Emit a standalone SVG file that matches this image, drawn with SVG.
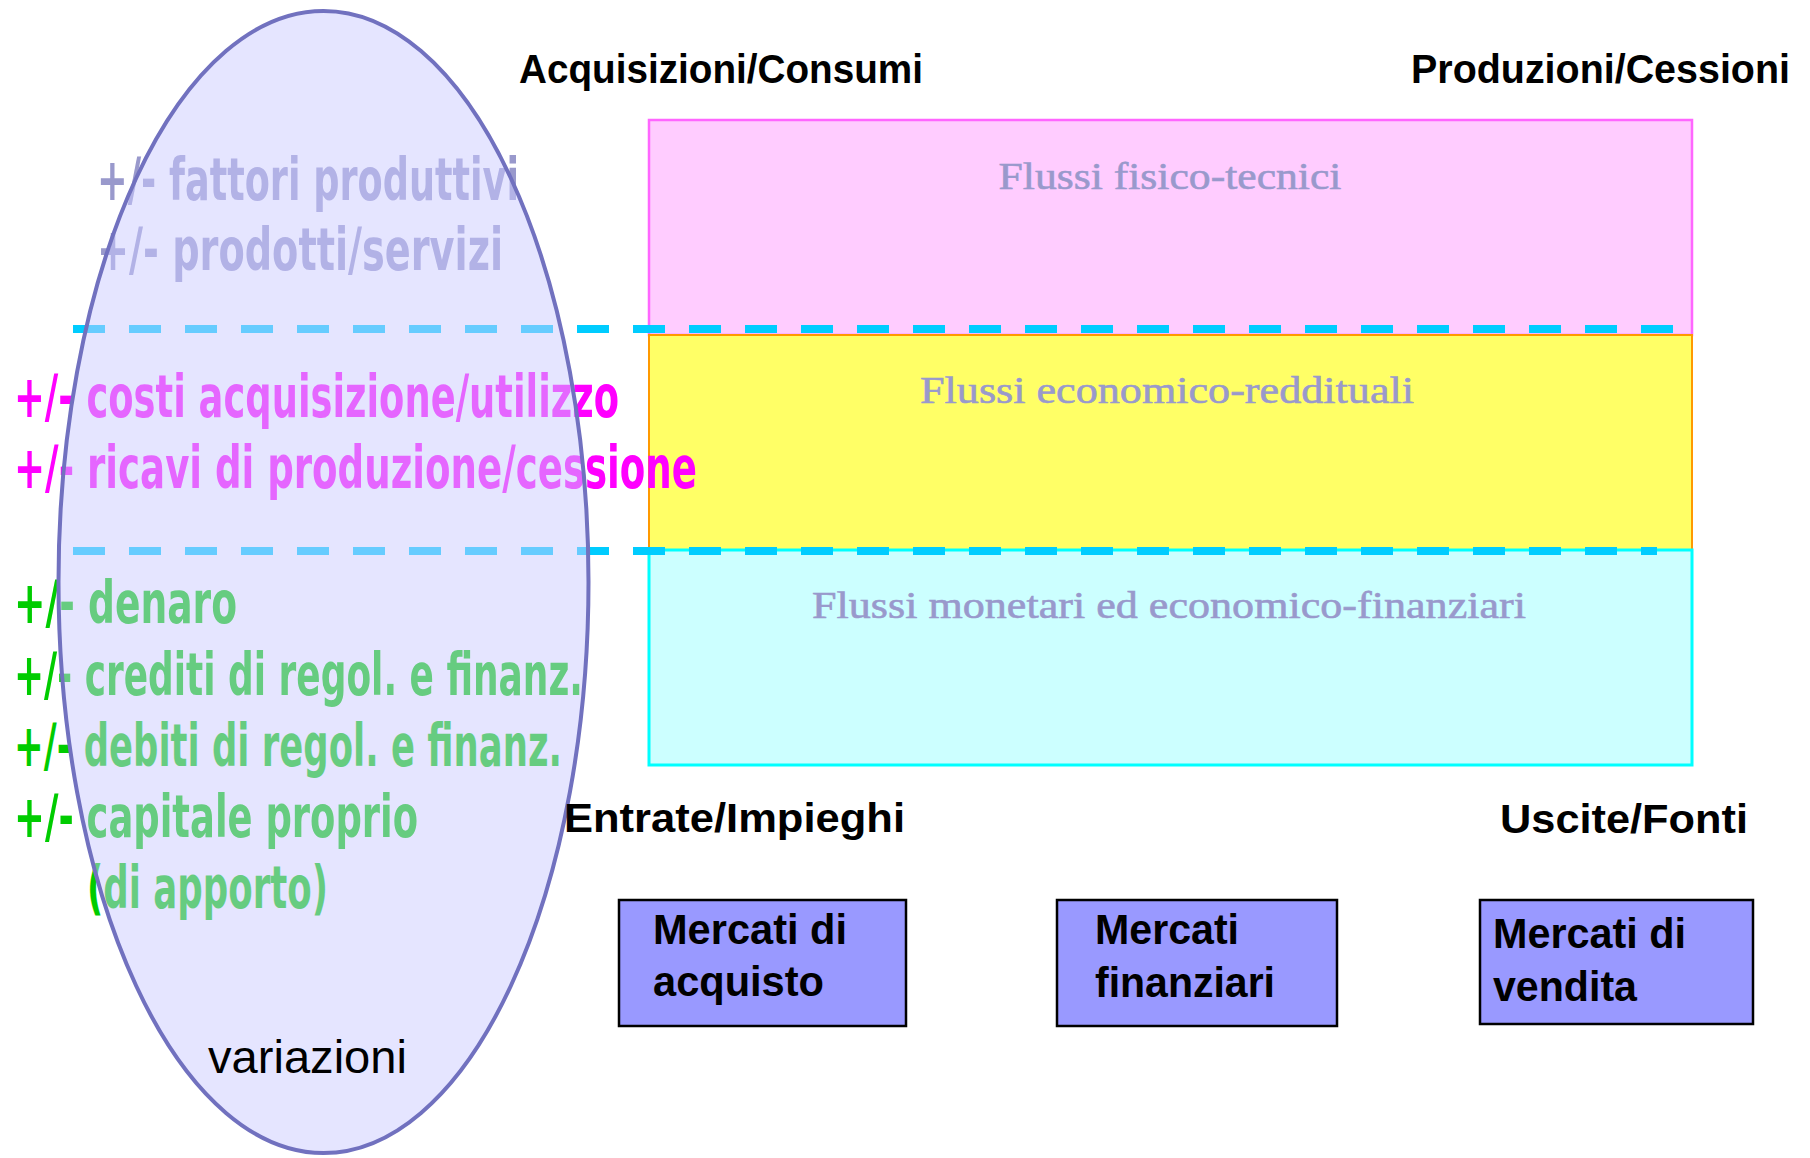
<svg xmlns="http://www.w3.org/2000/svg" width="1810" height="1158" viewBox="0 0 1810 1158">
  <style>
    .title { font-family: "Liberation Sans", Arial, sans-serif; font-weight: bold; font-size: 40px; fill: #000000; }
    .flow { font-family: "Liberation Serif", "Times New Roman", serif; font-size: 38px; fill: #9999cc; stroke: #9999cc; stroke-width: 0.6; text-anchor: middle; }
    .cond { font-family: "DejaVu Sans Condensed", "DejaVu Sans", sans-serif; font-stretch: condensed; font-weight: bold; font-size: 58px; }
    .grey { fill: #9999cc; }
    .mag { fill: #ff00ff; }
    .grn { fill: #00cc00; }
    .sep { stroke: #00ccff; stroke-width: 8; stroke-dasharray: 32 24; fill: none; }
    .mkt rect { fill: #9999ff; stroke: #000000; stroke-width: 2.5; }
    .mkt text { font-family: "Liberation Sans", Arial, sans-serif; font-weight: bold; font-size: 42px; fill: #000000; }
  </style>

  <!-- flow bands -->
  <g id="flussi-fisico-tecnici">
    <rect x="649" y="120" width="1043" height="215" fill="#ffccff" stroke="#ff66ff" stroke-width="2.5"/>
    <text class="flow" x="1170" y="189" textLength="343" lengthAdjust="spacingAndGlyphs">Flussi fisico-tecnici</text>
  </g>
  <g id="flussi-economico-reddituali">
    <rect x="649" y="335" width="1043" height="215" fill="#ffff66" stroke="#ff9900" stroke-width="2"/>
    <text class="flow" x="1167" y="403" textLength="494" lengthAdjust="spacingAndGlyphs">Flussi economico-reddituali</text>
  </g>
  <g id="flussi-monetari">
    <rect x="649" y="550" width="1043" height="215" fill="#ccffff" stroke="#00ffff" stroke-width="3"/>
    <text class="flow" x="1169" y="618" textLength="714" lengthAdjust="spacingAndGlyphs">Flussi monetari ed economico-finanziari</text>
  </g>

  <!-- separators -->
  <g id="connectors">
    <line class="sep" x1="73" y1="329" x2="1674" y2="329"/>
    <line class="sep" x1="73" y1="551" x2="1657" y2="551"/>
  </g>

  <!-- variation texts -->
  <g id="variazioni-testi">
    <text class="cond grey" x="97" y="200" textLength="422" lengthAdjust="spacingAndGlyphs">+/- fattori produttivi</text>
    <text class="cond grey" x="97" y="270" textLength="406" lengthAdjust="spacingAndGlyphs">+/- prodotti/servizi</text>
    <text class="cond mag" x="14" y="417" textLength="605" lengthAdjust="spacingAndGlyphs">+/- costi acquisizione/utilizzo</text>
    <text class="cond mag" x="14" y="488" textLength="683" lengthAdjust="spacingAndGlyphs">+/- ricavi di produzione/cessione</text>
    <text class="cond grn" x="14" y="623" textLength="223" lengthAdjust="spacingAndGlyphs">+/- denaro</text>
    <text class="cond grn" x="14" y="695" textLength="569" lengthAdjust="spacingAndGlyphs">+/- crediti di regol. e finanz.</text>
    <text class="cond grn" x="14" y="766" textLength="548" lengthAdjust="spacingAndGlyphs">+/- debiti di regol. e finanz.</text>
    <text class="cond grn" x="14" y="837" textLength="404" lengthAdjust="spacingAndGlyphs">+/- capitale proprio</text>
    <text class="cond grn" x="87" y="908" textLength="241" lengthAdjust="spacingAndGlyphs">(di apporto)</text>
  </g>

  <!-- ellipse -->
  <g id="variazioni">
    <ellipse cx="323.5" cy="582" rx="265" ry="571" fill="#ccccff" fill-opacity="0.5" stroke="#7171bf" stroke-width="4"/>
    <text x="208" y="1073" font-family="Liberation Sans, Arial, sans-serif" font-size="47" fill="#000000" textLength="199" lengthAdjust="spacingAndGlyphs">variazioni</text>
  </g>

  <!-- axis titles -->
  <g id="titoli">
    <text class="title" x="519" y="83" textLength="404" lengthAdjust="spacingAndGlyphs">Acquisizioni/Consumi</text>
    <text class="title" x="1411" y="83" textLength="379" lengthAdjust="spacingAndGlyphs">Produzioni/Cessioni</text>
    <text class="title" x="564" y="832" textLength="341" lengthAdjust="spacingAndGlyphs">Entrate/Impieghi</text>
    <text class="title" x="1500" y="833" textLength="248" lengthAdjust="spacingAndGlyphs">Uscite/Fonti</text>
  </g>

  <!-- markets -->
  <g id="mercati-acquisto" class="mkt">
    <rect x="619" y="900" width="287" height="126"/>
    <text x="653" y="944" textLength="194" lengthAdjust="spacingAndGlyphs">Mercati di</text>
    <text x="653" y="996" textLength="171" lengthAdjust="spacingAndGlyphs">acquisto</text>
  </g>
  <g id="mercati-finanziari" class="mkt">
    <rect x="1057" y="900" width="280" height="126"/>
    <text x="1095" y="944" textLength="144" lengthAdjust="spacingAndGlyphs">Mercati</text>
    <text x="1095" y="997" textLength="180" lengthAdjust="spacingAndGlyphs">finanziari</text>
  </g>
  <g id="mercati-vendita" class="mkt">
    <rect x="1480" y="900" width="273" height="124"/>
    <text x="1493" y="948" textLength="193" lengthAdjust="spacingAndGlyphs">Mercati di</text>
    <text x="1493" y="1001" textLength="144" lengthAdjust="spacingAndGlyphs">vendita</text>
  </g>
</svg>
